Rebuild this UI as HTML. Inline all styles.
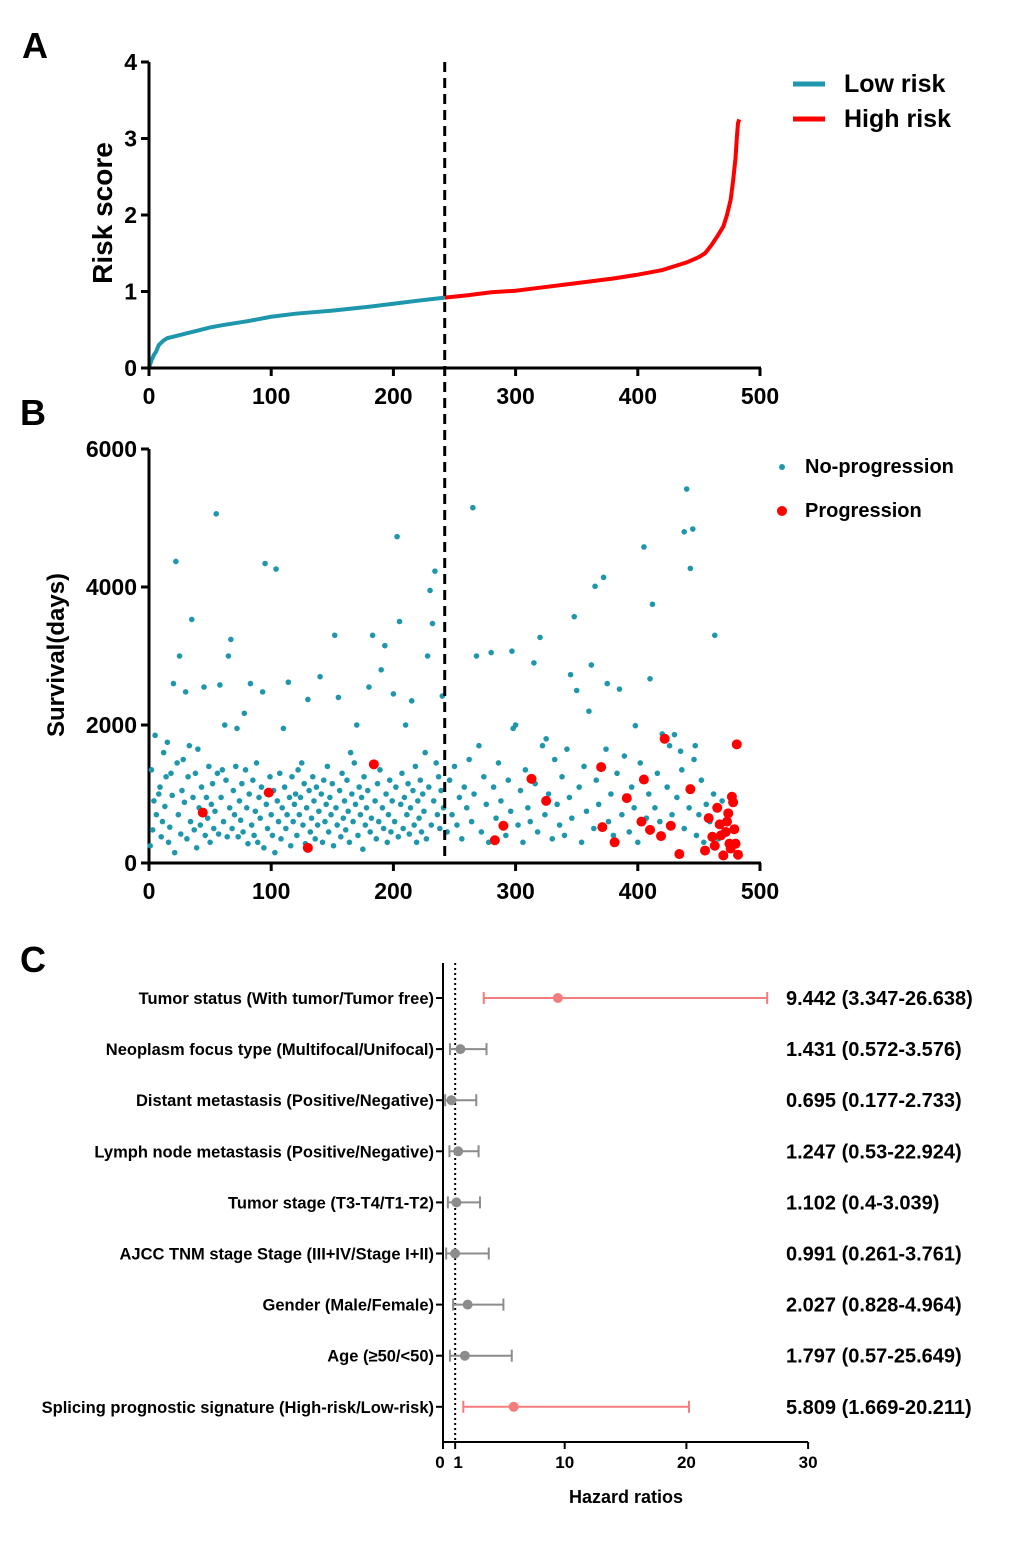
<!DOCTYPE html>
<html><head><meta charset="utf-8"><style>
body{margin:0;background:#fff;width:1020px;height:1546px;overflow:hidden}
svg{font-family:"Liberation Sans",Arial,sans-serif;font-weight:bold}
</style></head><body>
<svg id="s" width="1020" height="1546"></svg>
<script>
const riskIdx=[0,2,4,6,8,12,15,20,30,40,50,60,80,100,120,150,180,200,220,242,260,280,300,320,350,380,400,420,430,440,450,455,460,465,470,473,476,478,480,481,482,483];
const riskVal=[0,0.1,0.17,0.22,0.3,0.36,0.39,0.41,0.45,0.49,0.53,0.56,0.61,0.67,0.71,0.75,0.8,0.84,0.88,0.92,0.95,0.99,1.01,1.05,1.11,1.17,1.22,1.28,1.33,1.38,1.45,1.5,1.6,1.72,1.85,2.0,2.2,2.45,2.75,3.0,3.2,3.25];
const noProg=[[2,1350],[5,1850],[8,1000],[12,1600],[15,1750],[18,1300],[20,2600],[22,4370],[25,3000],[28,1500],[30,2480],[33,1700],[35,3530],[40,1650],[45,2550],[55,5060],[58,2580],[60,1350],[62,2000],[65,3000],[67,3240],[72,1950],[78,2170],[83,2600],[93,2480],[95,4340],[104,4260],[110,1950],[114,2620],[125,1450],[130,2370],[140,2700],[152,3300],[155,2400],[165,1600],[170,2000],[180,2550],[183,3300],[190,2800],[193,3150],[200,2450],[203,4730],[205,3500],[210,2000],[215,2350],[228,3000],[230,3950],[232,3470],[234,4230],[240,2420],[265,5150],[268,3000],[280,3050],[297,3070],[300,2000],[315,2900],[320,3270],[325,1800],[345,2730],[348,3570],[350,2500],[360,2200],[362,2870],[365,4010],[372,4140],[375,2600],[385,2520],[398,1990],[405,4580],[410,2670],[412,3750],[440,5420],[438,4800],[443,4270],[445,4840],[463,3300],[420,1870],[430,1860],[435,1620],[447,1700],
[1,250],[3,480],[4,900],[6,700],[9,1100],[10,380],[11,600],[13,820],[14,1250],[16,300],[17,520],[19,980],[21,150],[23,1450],[24,700],[26,420],[27,1050],[29,880],[31,350],[32,1250],[34,600],[36,950],[37,480],[38,1300],[39,220],[41,800],[42,550],[43,1100],[46,400],[47,950],[48,650],[49,1400],[50,300],[51,850],[52,1150],[53,500],[54,750],[56,1300],[57,420],[59,950],[61,600],[63,1200],[64,380],[66,800],[68,500],[69,1050],[70,700],[71,1400],[73,380],[74,900],[75,620],[76,1150],[77,450],[79,1350],[80,800],[81,280],[82,1000],[84,550],[85,1200],[86,400],[87,750],[88,1450],[89,300],[90,950],[91,650],[92,1100],[94,220],[96,850],[97,500],[99,1250],[100,700],[101,400],[102,1050],[103,150],[105,900],[106,600],[107,1300],[108,350],[109,800],[111,1100],[112,500],[113,700],[115,950],[116,250],[117,1250],[118,600],[119,850],[120,1000],[121,400],[122,1350],[123,700],[124,950],[126,550],[127,1150],[128,280],[129,800],[131,1050],[132,450],[133,650],[134,1250],[135,900],[136,350],[137,1100],[138,550],[139,750],[141,1000],[142,300],[143,1200],[144,600],[145,850],[146,1400],[147,450],[148,950],[149,700],[150,1150],[151,250],[153,800],[154,550],[156,1050],[157,380],[158,1300],[159,650],[160,900],[161,480],[162,1200],[163,750],[164,300],[166,1000],[167,600],[168,1450],[169,850],[171,400],[172,1100],[173,700],[174,950],[175,200],[176,1250],[177,550],[178,800],[179,1050],[181,450],[182,650],[185,900],[186,350],[187,1150],[188,600],[189,1350],[191,800],[192,500],[194,1000],[195,300],[196,700],[197,1200],[198,450],[199,900],[201,600],[202,1100],[204,380],[206,850],[207,1300],[208,500],[209,950],[211,700],[212,1150],[213,420],[214,800],[216,1050],[217,550],[218,1400],[219,300],[220,900],[221,650],[222,1200],[223,450],[224,1000],[225,750],[226,1600],[227,350],[229,1100],[231,550],[233,900],[235,1450],[236,700],[237,1250],[238,500],[239,1050],[241,800],
[244,450],[246,1200],[248,700],[250,1400],[252,550],[254,950],[256,350],[258,1100],[260,800],[262,1500],[264,600],[266,1000],[270,1700],[272,450],[274,1250],[276,850],[278,300],[282,1100],[284,650],[286,1450],[288,900],[292,400],[294,1200],[296,750],[298,1950],[302,550],[304,1050],[306,300],[308,1350],[310,800],[312,600],[316,1150],[318,450],[322,1700],[324,700],[327,1000],[330,350],[332,1500],[334,850],[336,550],[338,1250],[340,400],[342,1650],[344,950],[346,650],[352,1100],[354,300],[356,1400],[358,750],[364,500],[366,1200],[368,850],[374,1650],[376,600],[378,1000],[380,400],[383,1300],[387,700],[389,1550],[393,450],[395,1100],[397,800],[400,300],[402,1450],[407,650],[409,1000],[414,800],[416,1300],[418,600],[424,1100],[426,1700],[428,700],[432,950],[436,1350],[438,500],[442,800],[446,1500],[448,400],[450,700],[452,1200],[454,300],[456,850],[459,600],[462,1000],[466,350],[469,900],[471,450]];
const prog=[[44,730],[98,1020],[130,220],[184,1430],[283,330],[290,540],[313,1220],[325,900],[370,1390],[371,520],[381,300],[391,940],[403,600],[405,1210],[410,480],[419,390],[422,1800],[427,540],[434,130],[443,1070],[455,180],[458,650],[461,380],[463,250],[465,800],[467,560],[470,110],[472,450],[474,720],[475,280],[476,210],[477,960],[478,880],[479,490],[480,280],[481,1720],[482,120],[473,600],[468,400]];
const fLabels=["Tumor status (With tumor/Tumor free)","Neoplasm focus type (Multifocal/Unifocal)","Distant metastasis (Positive/Negative)","Lymph node metastasis (Positive/Negative)","Tumor stage (T3-T4/T1-T2)","AJCC TNM stage Stage (III+IV/Stage I+II)","Gender (Male/Female)","Age (≥50/<50)","Splicing prognostic signature (High-risk/Low-risk)"];
const fHR=[9.442,1.431,0.695,1.247,1.102,0.991,2.027,1.797,5.809];
const fLo=[3.347,0.572,0.177,0.53,0.4,0.261,0.828,0.57,1.669];
const fHi=[26.638,3.576,2.733,2.924,3.039,3.761,4.964,5.649,20.211];
const fText=["9.442 (3.347-26.638)","1.431 (0.572-3.576)","0.695 (0.177-2.733)","1.247 (0.53-22.924)","1.102 (0.4-3.039)","0.991 (0.261-3.761)","2.027 (0.828-4.964)","1.797 (0.57-25.649)","5.809 (1.669-20.211)"];
const fSig=[1,0,0,0,0,0,0,0,1];

const S=document.getElementById('s'),NS='http://www.w3.org/2000/svg';
function el(t,a,txt){const e=document.createElementNS(NS,t);for(const k in a)e.setAttribute(k,a[k]);if(txt!==undefined)e.textContent=txt;S.appendChild(e);return e;}
const X=i=>149+i*611/500;
const YA=v=>368-v*76.5;
const YB=v=>863-v*414/6000;
const XC=v=>443+v*12.17;
[["A",22,58],["B",20,425],["C",20,972]].forEach(([t,x,y])=>{const e=el('text',{x,y,'font-size':36},t);});
let d='';riskIdx.forEach((i,k)=>{if(i<=242)d+=(d?'L':'M')+X(i)+','+YA(riskVal[k]);});
let e=el('path',{d,fill:'none',stroke:'#1e97ac','stroke-width':4});
d='';riskIdx.forEach((i,k)=>{if(i>=242)d+=(d?'L':'M')+X(i)+','+YA(riskVal[k]);});
e=el('path',{d,fill:'none',stroke:'#ff0000','stroke-width':4});
function axes(y0,yTop,ticks,Y,lab,pre){
 el('line',{x1:149,y1:yTop,x2:149,y2:y0+1,stroke:'#000','stroke-width':3});
 el('line',{x1:148,y1:y0,x2:761,y2:y0,stroke:'#000','stroke-width':3});
 [0,100,200,300,400,500].forEach(v=>{el('line',{x1:X(v),y1:y0,x2:X(v),y2:y0+8,stroke:'#000','stroke-width':3});const t=el('text',{x:X(v),y:y0+36,'font-size':23,'text-anchor':'middle'},v);});
 ticks.forEach(v=>{el('line',{x1:141,y1:Y(v),x2:149,y2:Y(v),stroke:'#000','stroke-width':3});const t=el('text',{x:137,y:Y(v)+8,'font-size':23,'text-anchor':'end'},v);});
}
axes(368,62,[0,1,2,3,4],YA,'','a');
e=el('text',{transform:'translate(112,213) rotate(-90)','font-size':28,'text-anchor':'middle'},'Risk score');
el('line',{x1:793,y1:84,x2:825,y2:84,stroke:'#1e97ac','stroke-width':5});
e=el('text',{x:844,y:92,'font-size':25},'Low risk');
el('line',{x1:793,y1:119,x2:825,y2:119,stroke:'#ff0000','stroke-width':5});
e=el('text',{x:844,y:127,'font-size':25},'High risk');
axes(863,449,[0,2000,4000,6000],YB,'','b');
e=el('text',{transform:'translate(64,655) rotate(-90)','font-size':24,'text-anchor':'middle'},'Survival(days)');
noProg.forEach(p=>{const c=el('circle',{cx:X(p[0]),cy:YB(p[1]),r:2.8,fill:'#1e97ac'});});
prog.forEach(p=>{const c=el('circle',{cx:X(p[0]),cy:YB(p[1]),r:5,fill:'#ff0000'});});
el('circle',{cx:782,cy:467,r:3,fill:'#1e97ac'});
e=el('text',{x:805,y:473,'font-size':20},'No-progression');
el('circle',{cx:782,cy:511,r:5,fill:'#ff0000'});
e=el('text',{x:805,y:517,'font-size':20},'Progression');
e=el('line',{x1:X(242),y1:62,x2:X(242),y2:858,stroke:'#000','stroke-width':3,'stroke-dasharray':'10,6'});
el('line',{x1:443,y1:963,x2:443,y2:1443,stroke:'#000','stroke-width':2});
el('line',{x1:442,y1:1442,x2:808,y2:1442,stroke:'#000','stroke-width':2});
e=el('line',{x1:XC(1),y1:963,x2:XC(1),y2:1442,stroke:'#000','stroke-width':2,'stroke-dasharray':'2,3'});
[0,1,10,20,30].forEach(v=>{el('line',{x1:XC(v),y1:1442,x2:XC(v),y2:1449,stroke:'#000','stroke-width':2});const t=el('text',{x:XC(v)+(v==0?-3:v==1?3:0),y:1468,'font-size':17,'text-anchor':'middle'},v);});
e=el('text',{x:626,y:1503,'font-size':18,'text-anchor':'middle'},'Hazard ratios');
fLabels.forEach((l,i)=>{const y=998+i*51.1,col=fSig[i]?'#f47c7c':'#8c8c8c';
 el('line',{x1:436,y1:y,x2:443,y2:y,stroke:'#000','stroke-width':2});
 const t=el('text',{x:434,y:y+6,'font-size':16.5,'text-anchor':'end'},l);
 const g=el('line',{x1:XC(fLo[i]),y1:y,x2:XC(fHi[i]),y2:y,stroke:col,'stroke-width':2});
 el('line',{x1:XC(fLo[i]),y1:y-6,x2:XC(fLo[i]),y2:y+6,stroke:col,'stroke-width':2});
 el('line',{x1:XC(fHi[i]),y1:y-6,x2:XC(fHi[i]),y2:y+6,stroke:col,'stroke-width':2});
 const c=el('circle',{cx:XC(fHR[i]),cy:y,r:5,fill:col});
 const v=el('text',{x:786,y:y+7,'font-size':20},fText[i]);
});
</script>
</body></html>
